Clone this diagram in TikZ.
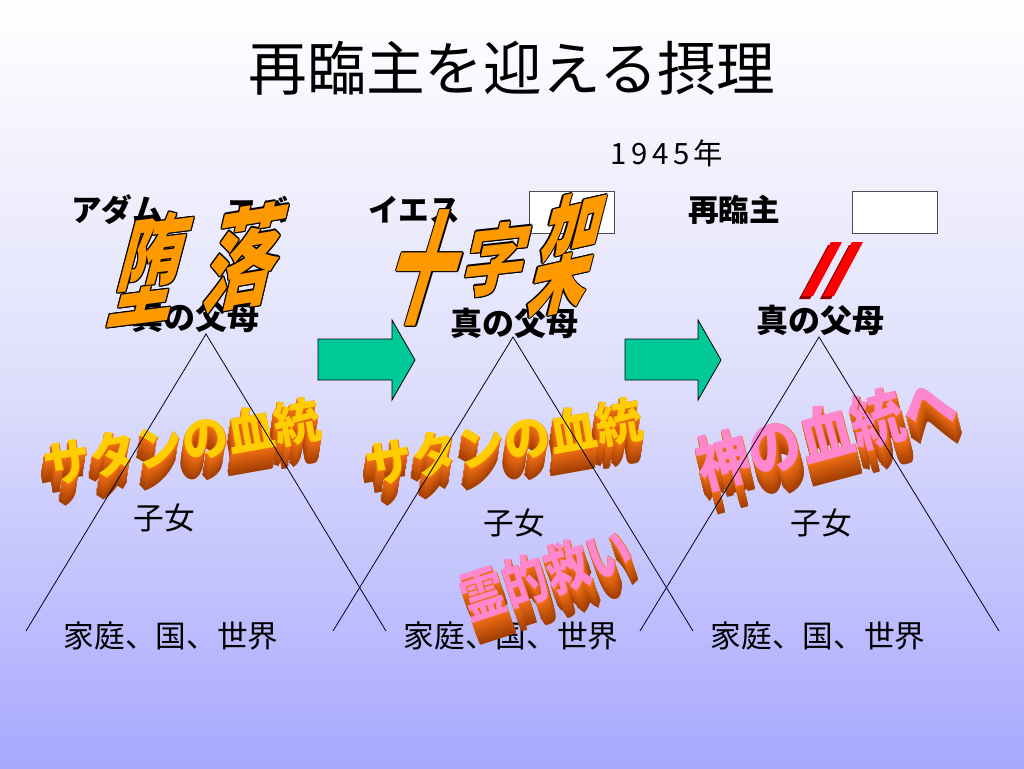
\documentclass[tikz,border=0pt]{standalone}
\usepackage{fontspec}
\newfontfamily\jp{Noto Sans CJK JP}
\definecolor{bgbot}{RGB}{168,168,255}
\definecolor{arrowg}{RGB}{0,200,150}
\definecolor{wao}{RGB}{255,153,0}
\definecolor{extA}{RGB}{240,110,20}
\definecolor{extB}{RGB}{150,55,0}
\definecolor{faceY}{RGB}{255,205,0}
\definecolor{faceP}{RGB}{255,135,205}
\definecolor{slred}{RGB}{255,0,0}
\definecolor{sldark}{RGB}{140,0,0}
\newcommand\tdword[9]{%
  % #1 name, #2 x, #3 y, #4 rotate, #5 font size, #6 face colour, #7 text, #8 dx per step, #9 yscale
  \foreach \k [evaluate=\k as \p using {int(100-4*\k)}] in {22,21,...,1}
    \node[tdtxt, rotate=#4, yscale=#9, font=\jp\bfseries\fontsize{#5}{#5}\selectfont, text=extA!\p!extB]
      (#1e\k) at ({#2+#8*\k},{#3+\k}) {#7};
  \node[tdtxt, rotate=#4, yscale=#9, font=\jp\bfseries\fontsize{#5}{#5}\selectfont, text=extA]
      (#1s) at ({#2+0.8},{#3+0.8}) {#7};
  \node[tdtxt, rotate=#4, yscale=#9, font=\jp\bfseries\fontsize{#5}{#5}\selectfont, text=#6]
      (#1) at (#2,#3) {#7};
}
\newcommand\olchar[8]{%
  % #1 name, #2 x, #3 y, #4 font size, #5 xscale, #6 yscale, #7 rotate, #8 text
  \foreach \dx/\dy [count=\n] in {-1.2/0,1.2/0,0/-1.2,0/1.2,-0.9/-0.9,0.9/0.9,-0.9/0.9,0.9/-0.9}
    \node[olbase, font=\jp\bfseries\fontsize{#4}{#4}\selectfont, xscale=#5, yscale=#6, rotate=#7, text=black]
      (#1o\n) at ({#2+\dx},{#3+\dy}) {#8};
  \node[olbase, font=\jp\bfseries\fontsize{#4}{#4}\selectfont, xscale=#5, yscale=#6, rotate=#7, text=wao]
      (#1) at (#2,#3) {#8};
}
\begin{document}
\begin{tikzpicture}[x=0.75pt,y=-0.75pt,
  lbl/.style={inner sep=0pt, font=\jp\bfseries\fontsize{23}{28}\selectfont},
  parent/.style={inner sep=0pt, font=\jp\bfseries\fontsize{24}{28}\selectfont},
  plain/.style={inner sep=0pt, font=\jp\fontsize{23}{28}\selectfont},
  wbox/.style={draw=black!70, line width=0.6pt, fill=white, minimum width=63.75pt, minimum height=31.5pt, inner sep=0pt},
  tdtxt/.style={inner sep=0pt},
  olbase/.style={inner sep=0pt, xslant=0.3},
  tri/.style={draw=black!85!blue, line width=0.6pt},
  bigarrow/.style={draw=black, line width=0.6pt, fill=arrowg}]
\useasboundingbox (0,0) rectangle (1024,768);
\shade[top color=white, bottom color=bgbot, middle color={rgb,255:red,222;green,222;blue,252}] (0,0) rectangle (1024,768);

% title
\node[inner sep=0pt, font=\jp\fontsize{44}{50}\selectfont] (title) at (512,68) {再臨主を迎える摂理};

% top labels
\node[inner sep=0pt, font=\jp\fontsize{22}{26}\selectfont\addfontfeatures{LetterSpace=15}] (year) at (667,153) {1945年};
\node[lbl] (adam) at (117,210) {アダム};
\node[lbl] (eve) at (257,210) {エバ};
\node[lbl] (jesus) at (414,210) {イエス};
\node[lbl] (lord) at (734,210) {再臨主};
\node[wbox] (box1) at (571.5,212) {};
\node[wbox] (box2) at (895,212) {};

% true parents
\node[parent] (tp1) at (195,317) {真の父母};
\node[parent] (tp2) at (514,323) {真の父母};
\node[parent] (tp3) at (820,320) {真の父母};

% children and families
\node[plain] (ch1) at (164,518) {子女};
\node[plain] (ch2) at (514,523) {子女};
\node[plain] (ch3) at (821,523) {子女};
\node[plain] (fam1) at (171,636) {家庭、国、世界};
\node[plain] (fam2) at (511,636) {家庭、国、世界};
\node[plain] (fam3) at (818,636) {家庭、国、世界};

% block arrows
\draw[bigarrow] (318,339) -- (392,339) -- (392,320) -- (415,360) -- (392,400) -- (392,380) -- (318,380) -- cycle;
\draw[bigarrow] (625,339) -- (698,339) -- (698,320) -- (721,360) -- (698,400) -- (698,380) -- (625,380) -- cycle;

% 3D word art
\tdword{sat1}{182}{442}{10}{35}{faceY}{サタンの血統}{-0.15}{1.05}
\tdword{sat2}{504}{442}{10}{35}{faceY}{サタンの血統}{-0.15}{1.05}
\tdword{kami}{826}{433}{15}{40}{faceP}{神の血統へ}{0.25}{1.15}
\tdword{rei}{546}{574}{18}{33}{faceP}{霊的救い}{0.35}{1.25}

% triangles
\coordinate (t1a) at (206,334);
\coordinate (t1l) at (26,631);
\coordinate (t1r) at (386,631);
\coordinate (t2a) at (513,337);
\coordinate (t2l) at (333,631);
\coordinate (t2r) at (693,631);
\coordinate (t3a) at (819,337);
\coordinate (t3l) at (640,631);
\coordinate (t3r) at (999,631);
\draw[tri] (t1l) -- (t1a) -- (t1r);
\draw[tri] (t2l) -- (t2a) -- (t2r);
\draw[tri] (t3l) -- (t3a) -- (t3r);

% outlined word art
\olchar{da}{152}{268}{80}{0.6}{1.12}{4}{堕}
\olchar{raku}{246}{257}{80}{0.64}{1.05}{6}{落}
\olchar{ju}{428}{268}{80}{0.62}{1.15}{0}{十}
\olchar{ji}{497}{259}{62}{0.75}{0.95}{5}{字}
\olchar{ka}{568}{253}{82}{0.52}{1.2}{6}{架}

% red double slash
\fill[sldark] (799,299) -- (810,299) -- (839,245) -- (828,245) -- cycle;
\fill[sldark] (820,299) -- (831,299) -- (860,245) -- (849,245) -- cycle;
\fill[slred] (802,296) -- (813,296) -- (842,242) -- (831,242) -- cycle;
\fill[slred] (823,296) -- (834,296) -- (863,242) -- (852,242) -- cycle;
\end{tikzpicture}
\end{document}
